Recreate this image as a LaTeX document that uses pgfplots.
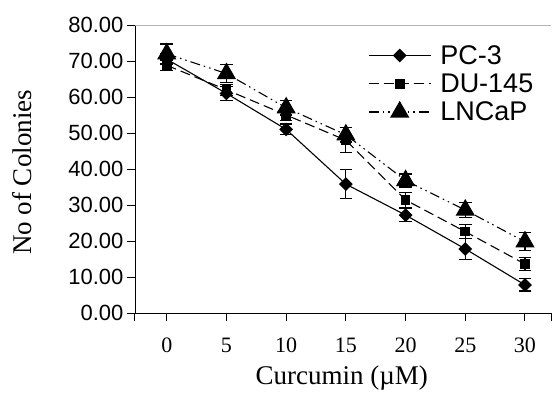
\documentclass[border=0pt]{standalone}
\usepackage{pgfplots}
\pgfplotsset{compat=1.18}
\usepackage{fontspec}
\setmainfont{Liberation Serif}
\newfontfamily\arial{Liberation Sans}
\begin{document}
\begin{tikzpicture}
\begin{axis}[
 name=ax, at={(0,0)}, anchor=south west,
 scale only axis, width=416pt, height=288pt,
 xmin=-2.66, xmax=32.18, ymin=0, ymax=80,
 axis x line*=bottom, axis y line*=left,
 axis line style={line width=0.8pt},
 xtick={0,5,...,30}, ytick={0,10,...,80},
 extra x ticks={-2.66,32.18}, extra x tick labels={},
 tick align=outside,
 major tick length=8pt,
 tick style={line width=1pt, black},
 clip=false,
 yticklabel style={font=\arial\fontsize{22}{22}\selectfont, /pgf/number format/.cd, fixed, fixed zerofill, precision=2, assume math mode=true},
 xticklabel style={font=\fontsize{22}{22}\selectfont, anchor=center, yshift=-24pt, /pgf/number format/assume math mode=true},
 xlabel={Curcumin (µM)},
 ylabel={No of Colonies},
 label style={font=\fontsize{27}{27}\selectfont},
 xlabel style={at={(axis description cs:0.497,-0.2257)}, anchor=center},
 ylabel style={at={(axis description cs:-0.2716,0.488)}, anchor=center},
 legend style={draw=none, fill=none, at={(axis description cs:0.56,0.937)}, anchor=north west, font=\arial\fontsize{27}{27}\selectfont, row sep=4pt, inner sep=0pt, /tikz/every odd column/.append style={column sep=7pt}},
 legend cell align=left,
 legend image code/.code={\draw[mark repeat=2,mark phase=2,#1] plot coordinates {(0pt,0pt) (31pt,0pt) (62pt,0pt)};},
 every axis plot/.append style={line width=1.1pt, black},
 error bars/error bar style={solid, line width=1.2pt},
 error bars/error mark options={rotate=90, mark size=6.3pt, line width=1.2pt, solid},
]
\addplot[solid, mark=square*, mark options={rotate=45, mark size=4.3pt, solid}, error bars/.cd, y dir=both, y explicit]
 coordinates {(0,70.5)+-(0,1.5) (5,61)+-(0,2) (10,51)+-(0,1.5) (15,35.8)+-(0,4) (20,27.2)+-(0,1.8) (25,17.8)+-(0,3) (30,7.8)+-(0,1.7)};
\addlegendentry{PC-3}
\addplot[dash pattern=on 10pt off 5pt, mark=square*, mark options={mark size=4.3pt, solid}, error bars/.cd, y dir=both, y explicit]
 coordinates {(0,68.8)+-(0,1.5) (5,62)+-(0,1.5) (10,55)+-(0,1.5) (15,48)+-(0,3.5) (20,31.4)+-(0,2) (25,22.6)+-(0,2) (30,13.6)+-(0,1.8)};
\addlegendentry{DU-145}
\addplot[dash pattern=on 10pt off 4pt on 1.5pt off 4pt on 1.5pt off 4pt, mark=triangle*, mark options={mark size=10pt, solid}, error bars/.cd, y dir=both, y explicit]
 coordinates {(0,72)+-(0,2.7) (5,66.5)+-(0,2.5) (10,57)+-(0,2) (15,49.5)+-(0,2) (20,36.8)+-(0,1.8) (25,28.6)+-(0,2) (30,19.8)+-(0,2.5)};
\addlegendentry{LNCaP}
\draw[gray!60, line width=0.6pt] (rel axis cs:0,1) -- (rel axis cs:1,1);
\end{axis}
\pgfresetboundingbox
\path ([shift={(-135pt,-87pt)}]ax.south west) rectangle ([shift={(417pt,313pt)}]ax.south west);
\end{tikzpicture}
\end{document}
